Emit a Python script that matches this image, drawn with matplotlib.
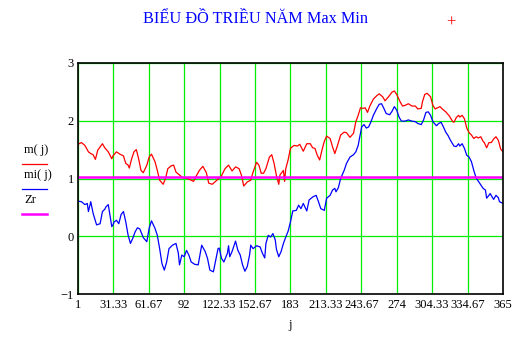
import matplotlib.pyplot as plt
from matplotlib.lines import Line2D

plt.rcParams['font.family'] = ['Liberation Serif', 'DejaVu Serif']

# m(j) - max (red)
day_max = [1, 4, 7, 10, 12, 14, 16, 18, 22, 24, 27, 30, 31, 34, 37, 40, 42, 44, 45, 47, 49, 51, 53, 55, 57,
           60, 62, 64, 67, 69, 71, 74, 76, 78, 81, 83, 85, 88, 91, 95, 100, 102, 105, 108, 111, 113, 116, 120,
           122, 123, 125, 127, 130, 133, 136, 139, 141, 143, 146, 149, 151, 154, 156, 158, 160, 162, 165, 167,
           169, 171, 173, 174, 177, 178, 179, 181, 183, 186, 189, 191, 194, 197, 200, 202, 204, 206, 208, 210,
           212, 214, 217, 219, 221, 223, 226, 229, 231, 234, 237, 239, 241, 243, 245, 247, 249, 251, 254, 257,
           259, 262, 264, 267, 270, 272, 274, 277, 279, 281, 284, 287, 290, 292, 295, 296, 298, 300, 303, 305,
           307, 309, 311, 313, 316, 319, 322, 323, 325, 327, 328, 330, 332, 334, 336, 338, 340, 342, 344, 346,
           348, 349, 351, 353, 355, 357, 359, 361, 363, 365]
m_max = [1.59, 1.62, 1.57, 1.46, 1.43, 1.41, 1.33, 1.49, 1.60, 1.53, 1.46, 1.34, 1.39, 1.46, 1.42, 1.39, 1.26,
         1.23, 1.18, 1.34, 1.46, 1.50, 1.34, 1.14, 1.10, 1.23, 1.37, 1.42, 1.29, 1.14, 0.97, 0.90, 1.00, 1.17,
         1.22, 1.23, 1.11, 1.06, 1.01, 1.00, 0.95, 1.03, 1.14, 1.21, 1.10, 0.92, 0.90, 0.97, 1.01, 1.01, 1.09,
         1.17, 1.23, 1.13, 1.20, 1.17, 1.06, 0.87, 0.94, 0.97, 1.11, 1.28, 1.23, 1.09, 1.09, 1.17, 1.37, 1.41,
         1.26, 1.05, 0.90, 1.06, 1.14, 0.95, 1.17, 1.32, 1.52, 1.57, 1.56, 1.59, 1.47, 1.60, 1.60, 1.53, 1.52,
         1.40, 1.32, 1.49, 1.64, 1.73, 1.69, 1.55, 1.43, 1.55, 1.75, 1.80, 1.79, 1.71, 1.78, 1.98, 2.09, 2.22,
         2.21, 2.22, 2.14, 2.25, 2.37, 2.43, 2.46, 2.41, 2.34, 2.41, 2.49, 2.51, 2.45, 2.32, 2.25, 2.26, 2.29,
         2.25, 2.25, 2.20, 2.21, 2.32, 2.45, 2.47, 2.41, 2.26, 2.20, 2.22, 2.24, 2.20, 2.15, 2.08, 1.98, 1.97,
         2.05, 2.09, 2.06, 2.09, 2.03, 1.87, 1.79, 1.75, 1.69, 1.72, 1.70, 1.72, 1.64, 1.62, 1.53, 1.62, 1.62,
         1.68, 1.72, 1.66, 1.51, 1.46]

# mi(j) - min (blue)
day_min = [1, 4, 7, 9, 10, 12, 14, 17, 20, 22, 24, 25, 27, 30, 31, 32, 34, 36, 38, 40, 42, 44, 46, 48, 50, 52,
           54, 57, 60, 62, 64, 67, 69, 71, 73, 75, 77, 79, 82, 85, 87, 88, 90, 92, 94, 96, 98, 101, 104, 107,
           110, 112, 114, 117, 119, 121, 122, 124, 126, 129, 130, 131, 133, 136, 138, 140, 142, 144, 146, 148,
           149, 151, 154, 157, 159, 161, 162, 164, 166, 168, 170, 171, 173, 175, 177, 179, 181, 183, 185, 188,
           190, 192, 194, 197, 199, 202, 205, 207, 209, 212, 214, 217, 219, 221, 222, 224, 226, 229, 231, 234,
           237, 239, 241, 244, 246, 248, 250, 252, 254, 257, 259, 261, 263, 265, 268, 270, 272, 274, 276, 278,
           281, 284, 287, 290, 292, 295, 297, 299, 301, 303, 305, 308, 310, 312, 314, 316, 318, 320, 323, 325,
           327, 328, 330, 332, 334, 336, 338, 340, 342, 344, 346, 348, 350, 351, 353, 354, 357, 359, 361, 362,
           364, 365]
m_min = [0.61, 0.60, 0.55, 0.57, 0.43, 0.60, 0.40, 0.20, 0.22, 0.43, 0.47, 0.51, 0.55, 0.17, 0.20, 0.25, 0.28,
         0.22, 0.38, 0.43, 0.25, 0.02, -0.12, -0.03, 0.08, 0.15, 0.13, -0.02, -0.09, 0.14, 0.27, 0.14, 0.02,
         -0.21, -0.47, -0.58, -0.44, -0.21, -0.15, -0.12, -0.29, -0.49, -0.32, -0.35, -0.24, -0.32, -0.44,
         -0.48, -0.49, -0.15, -0.26, -0.38, -0.58, -0.61, -0.41, -0.21, -0.20, -0.38, -0.44, -0.29, -0.16,
         -0.35, -0.26, -0.08, -0.24, -0.32, -0.49, -0.60, -0.52, -0.32, -0.15, -0.21, -0.16, -0.18, -0.29,
         -0.37, -0.12, 0.02, -0.01, 0.05, -0.06, -0.22, -0.35, -0.26, -0.12, -0.01, 0.09, 0.25, 0.44, 0.45,
         0.54, 0.48, 0.57, 0.44, 0.63, 0.68, 0.71, 0.60, 0.48, 0.45, 0.66, 0.71, 0.80, 0.83, 0.77, 0.84, 1.00,
         1.14, 1.26, 1.37, 1.41, 1.46, 1.57, 1.89, 1.93, 1.87, 1.89, 1.98, 2.09, 2.21, 2.28, 2.29, 2.21, 2.12,
         2.10, 2.16, 2.24, 2.18, 2.06, 1.99, 1.99, 2.01, 1.99, 1.98, 1.95, 1.93, 2.01, 2.14, 2.15, 2.09, 1.98,
         1.91, 1.95, 1.97, 1.89, 1.80, 1.74, 1.66, 1.56, 1.55, 1.60, 1.56, 1.60, 1.52, 1.40, 1.37, 1.29, 1.14,
         1.01, 0.95, 0.89, 0.83, 0.80, 0.66, 0.71, 0.74, 0.64, 0.71, 0.67, 0.60, 0.58, 0.57]

# Zr - reference level (magenta)
day_zr = [1, 365]
zr = [1.02, 1.02]

x_ticks = [1, 31.33, 61.67, 92, 122.33, 152.67, 183, 213.33, 243.67, 274, 304.33, 334.67, 365]
x_labels = ['1', '31.33', '61.67', '92', '122.33', '152.67', '183', '213.33', '243.67', '274',
            '304.33', '334.67', '365']
y_ticks = [-1, 0, 1, 2, 3]


def draw_chart():
    fig = plt.figure(figsize=(5.3, 3.4), dpi=100)
    ax = fig.add_axes([0.147, 0.134, 0.802, 0.682])

    ax.plot(day_max, m_max, color='#ff0000', lw=0.9)
    ax.plot(day_min, m_min, color='#0000ff', lw=0.9)
    ax.plot(day_zr, zr, color='#ff00ff', lw=1.8)

    ax.set_xlim(1, 365)
    ax.set_ylim(-1, 3)
    ax.set_xticks(x_ticks)
    ax.set_xticklabels(x_labels)
    ax.set_yticks(y_ticks)
    ax.tick_params(length=0, labelsize=9, pad=3)
    ax.grid(color='#00ee00', lw=0.9)
    ax.set_axisbelow(True)
    for s in ax.spines.values():
        s.set_linewidth(1.2)
        s.set_color('black')
    ax.set_xlabel('j', fontsize=9, labelpad=6)

    fig.text(0.483, 0.945, 'BIỂU ĐỒ TRIỀU NĂM Max Min', color='#0000ff', fontsize=11.7,
             ha='center', va='center')
    fig.text(0.851, 0.932, '+', color='#ff0000', fontsize=12, ha='center', va='center')

    # legend on the left: label above line
    names = ['m( j)', 'mi( j)', 'Zr']
    colors = ['#ff0000', '#0000ff', '#ff00ff']
    widths = [0.9, 0.9, 1.8]
    for i in range(3):
        ty = 1 - (150 + i * 25) / 340.0
        ly = 1 - (163.5 + i * 25) / 340.0
        fig.text(24 / 530.0, ty, names[i], fontsize=9, ha='left', va='center')
        fig.add_artist(Line2D([22 / 530.0, 47 / 530.0], [ly, ly], color=colors[i], lw=widths[i],
                              transform=fig.transFigure))

    plt.savefig('out.png', dpi=100)


draw_chart()
